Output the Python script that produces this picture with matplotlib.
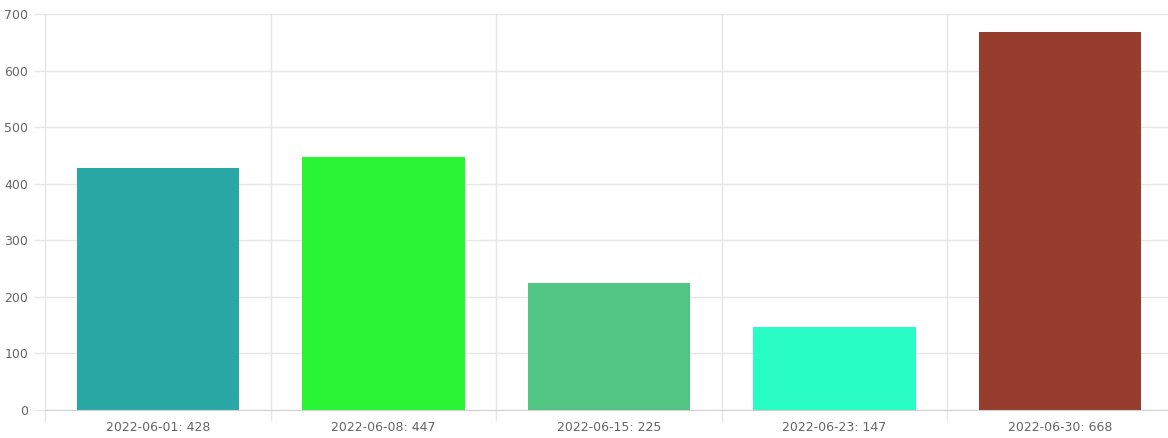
import numpy as np
import matplotlib
matplotlib.use('Agg')
from matplotlib import pyplot as plt

dates = ['2022-06-01', '2022-06-08', '2022-06-15', '2022-06-23', '2022-06-30']
counts = [428, 447, 225, 147, 668]
colors = ['#2aa8a6', '#2af535', '#52c484', '#27fdc4', '#963d2d']
labels = [d + ': ' + str(c) for d, c in zip(dates, counts)]

fig = plt.figure(figsize=(11.68, 4.38), dpi=100)
ax = fig.add_axes([45/1168, 28/438, 1128/1168, 396/438])

x = np.arange(len(dates))
ax.bar(x, counts, width=0.72, color=colors, zorder=2)

ax.set_xlim(-0.5, len(dates) - 0.5)
ax.set_ylim(0, 700)
ax.set_yticks(range(0, 701, 100))
ax.set_xticks(x)
ax.set_xticklabels(labels)
ax.set_xticks(np.arange(-0.5, len(dates)), minor=True)

grid_c = '#e6e6e6'
ax.grid(axis='y', color=grid_c, linewidth=1, zorder=0)
ax.grid(axis='x', which='minor', color=grid_c, linewidth=1, zorder=0)
ax.tick_params(axis='x', which='major', length=0, pad=8, labelsize=9, labelcolor='#666666')
ax.tick_params(axis='x', which='minor', length=8, color=grid_c, width=1)
ax.tick_params(axis='y', length=8, color=grid_c, width=1, pad=4, labelsize=9, labelcolor='#666666')

for s in ['top', 'right']:
    ax.spines[s].set_visible(False)
ax.spines['left'].set_color(grid_c)
ax.spines['bottom'].set_color('#d0d0d0')

fig.savefig('out.png', dpi=100)
